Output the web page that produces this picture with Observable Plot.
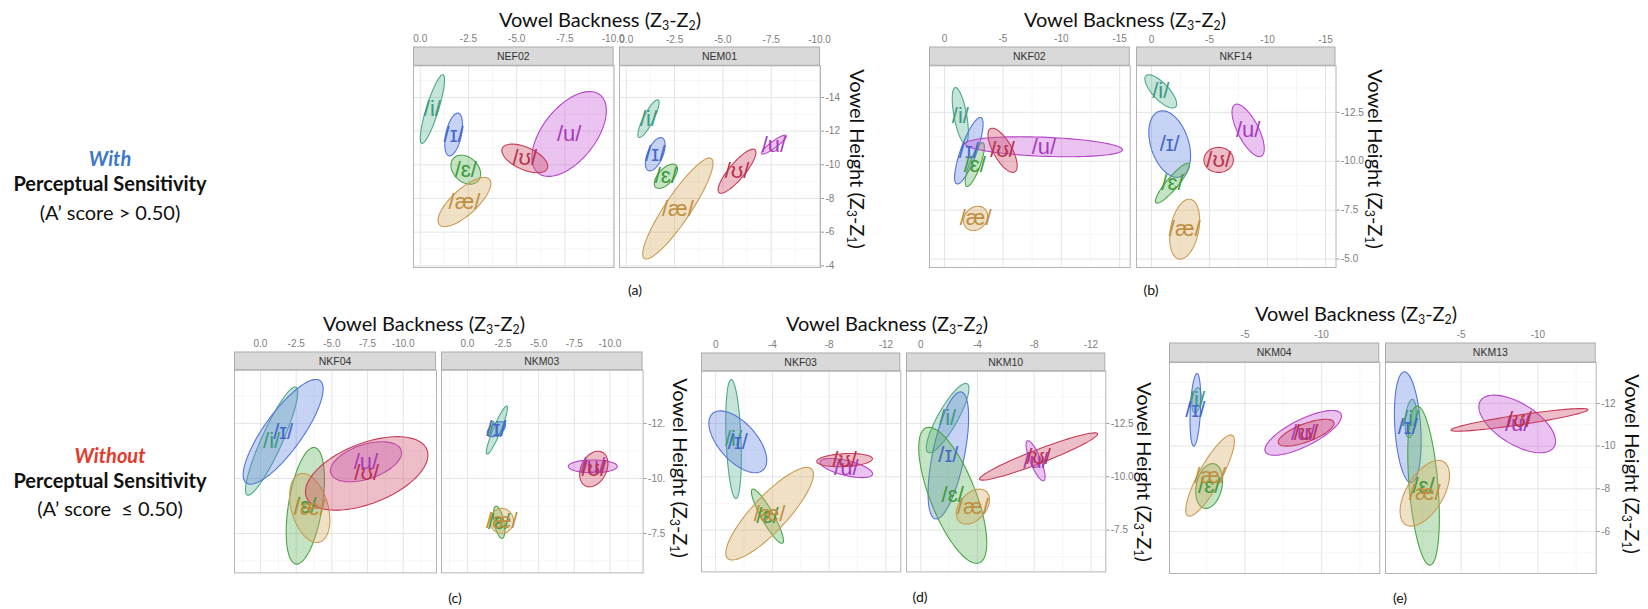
<!DOCTYPE html>
<html><head><meta charset="utf-8">
<script src="https://cdn.jsdelivr.net/npm/d3@7"></script>
<script src="https://cdn.jsdelivr.net/npm/@observablehq/plot@0.6"></script>
<style>
body{margin:0;background:#fff;}
#root{position:relative;width:1648px;height:609px;overflow:hidden;font-family:Lato,"Open Sans",sans-serif;color:#111;}
.abs{position:absolute;white-space:nowrap;line-height:1;}
sub{font-size:0.62em;vertical-align:-0.28em;line-height:0;}
.wrap{position:absolute;overflow:visible;}
.wrap svg{max-width:none !important;display:block;}
</style></head>
<body><div id="root"></div>
<script>
// ---------- data ----------
const vowels = ["i","ɪ","ɛ","æ","u","ʊ"];
const vowelLabels = ["/i/","/ɪ/","/ɛ/","/æ/","/u/","/ʊ/"];
const strokeColors = ["#4ea88b","#5476d6","#4ea34a","#c89c55","#b447c8","#c43c58"];
const fillColors   = ["#5fb89b","#6384e0","#5cb358","#d6aa62","#c45ad6","#d04a66"];
const textColors   = ["#3f9a7d","#4667cc","#3f9a3b","#bf8f3f","#a63bbb","#b8324d"];

const speakers = ["NEF02","NEM01","NKF02","NKF14","NKF04","NKM03","NKF03","NKM10","NKM04","NKM13"];
// mean backness (Z3-Z2) per vowel [i, ɪ, ɛ, æ, u, ʊ]
const centerX = [
  [-0.63,-1.73,-2.36,-2.29,-7.72,-5.42],
  [-1.15,-1.50,-2.05,-2.67,-7.64,-5.73],
  [-1.35,-2.08,-2.59,-2.66,-8.51,-4.97],
  [-0.80,-1.57,-1.81,-2.86,-8.33,-5.79],
  [-0.78,-1.59,-3.14,-3.45,-7.39,-7.44],
  [-2.07,-2.03,-2.22,-2.41,-8.80,-8.87],
  [-1.26,-1.56,-3.65,-3.80,-9.21,-9.09],
  [-1.90,-1.95,-2.26,-3.68,-8.10,-8.31],
  [-1.83,-1.76,-2.66,-2.72,-8.80,-8.99],
  [-1.71,-1.52,-2.55,-2.63,-8.65,-8.80]
];
// mean height (Z3-Z1)
const centerY = [
  [-13.31,-11.80,-9.71,-7.79,-11.83,-10.38],
  [-12.74,-10.63,-9.32,-7.40,-11.20,-9.62],
  [-12.34,-10.54,-9.83,-7.08,-10.74,-10.56],
  [-13.57,-10.88,-8.88,-6.53,-11.58,-10.07],
  [-11.70,-12.12,-8.76,-8.66,-10.76,-10.23],
  [-12.20,-12.24,-8.01,-8.07,-10.55,-10.43],
  [-11.77,-11.64,-8.15,-8.27,-10.41,-10.78],
  [-12.75,-11.00,-9.13,-8.60,-10.75,-10.95],
  [-12.15,-11.70,-8.13,-8.62,-10.62,-10.63],
  [-11.29,-10.88,-8.15,-7.79,-11.04,-11.23]
];
// ellipse half-extent in backness
const spreadX = [
  [0.63,0.46,0.77,1.37,1.93,1.19],
  [0.55,0.51,0.60,1.82,0.64,0.98],
  [0.69,1.22,0.82,1.03,6.73,1.25],
  [1.37,1.80,1.47,1.29,1.39,1.27],
  [1.83,2.80,1.34,1.41,2.49,4.29],
  [0.74,0.64,0.40,0.82,1.72,0.99],
  [0.55,2.04,1.13,3.09,1.85,1.96],
  [1.50,1.43,2.40,1.17,0.67,4.16],
  [0.30,0.35,0.88,1.59,2.50,1.82],
  [0.36,0.87,1.03,1.61,2.50,4.46]
];
// ellipse half-extent in height
const spreadY = [
  [2.04,1.27,0.86,1.46,2.52,0.85],
  [1.12,0.99,0.72,3.00,0.56,1.31],
  [1.43,1.70,1.12,0.62,0.51,1.13],
  [0.85,1.70,1.02,1.53,1.34,0.64],
  [2.46,2.38,2.65,1.57,0.91,1.67],
  [1.09,0.34,0.73,0.57,0.29,0.81],
  [2.79,1.45,1.27,2.17,0.45,0.31],
  [1.63,2.98,3.19,0.82,0.94,1.11],
  [0.59,1.70,1.05,1.90,1.05,0.63],
  [0.90,2.60,3.73,1.54,1.35,0.53]
];
// correlation of backness and height
const corr = [
  [0.85,0.45,-0.30,0.75,0.55,-0.55],
  [0.85,0.55,0.60,0.90,0.90,0.85],
  [-0.60,0.80,0.80,0.20,-0.30,-0.70],
  [-0.75,-0.35,0.90,0.30,-0.70,0.00],
  [0.90,0.82,0.45,-0.35,0.45,0.50],
  [0.92,0.50,-0.50,0.00,0.00,0.30],
  [-0.30,-0.60,-0.90,0.85,-0.60,0.20],
  [0.85,0.60,-0.70,0.40,-0.80,0.95],
  [0.30,0.30,0.25,0.85,0.75,0.70],
  [0.30,-0.25,-0.40,0.55,-0.60,0.90]
];

// tick values per panel group
const ticksA_x = [0,-2.5,-5,-7.5,-10], minorA_x = [-1.25,-3.75,-6.25,-8.75];
const ticksA_y = [-14,-12,-10,-8,-6,-4], minorA_y = [-15,-13,-11,-9,-7,-5];
const ticksB_x = [0,-5,-10,-15], minorB_x = [-2.5,-7.5,-12.5];
const ticksB_y = [-12.5,-10,-7.5,-5], minorB_y = [-13.75,-11.25,-8.75,-6.25];
const ticksC_x = [0,-2.5,-5,-7.5,-10], minorC_x = [1.25,-1.25,-3.75,-6.25,-8.75,-11.25];
const ticksC_y = [-12.5,-10,-7.5], minorC_y = [-13.75,-11.25,-8.75,-6.25];
const ticksD_x = [0,-4,-8,-12], minorD_x = [-2,-6,-10];
const ticksD_y = [-12.5,-10,-7.5], minorD_y = [-13.75,-11.25,-8.75,-6.25];
const ticksE_x = [-5,-10], minorE_x = [-2.5,-7.5,-12.5];
const ticksE_y = [-12,-10,-8,-6], minorE_y = [-13,-11,-9,-7,-5];

// ---------- drawing ----------
const root = document.getElementById("root");
const hy = (dec) => (d) => (d < 0 ? "-" : "") + Math.abs(d).toFixed(dec);

function ellipsePoints(s) {
  const pts = [];
  for (let v = 0; v < 6; v++) {
    const cx = centerX[s][v], cy = centerY[s][v], sx = spreadX[s][v], sy = spreadY[s][v], r = corr[s][v];
    const q = Math.sqrt(1 - r * r);
    for (let k = 0; k < 90; k++) {
      const t = 2 * Math.PI * k / 90;
      pts.push({v, x: cx + sx * Math.cos(t), y: cy + sy * (r * Math.cos(t) + q * Math.sin(t))});
    }
  }
  return pts;
}

function facet(c) {
  const s = speakers.indexOf(c.name);
  const labelArea = 16;
  const mt = c.stripH + labelArea;
  const mr = c.showY ? 48 : 0;
  const cents = vowels.map((v, i) => ({v: i, x: centerX[s][i], y: centerY[s][i]}));
  const marks = [
    Plot.gridX(c.xMinor, {stroke: "#f2f2f2", strokeOpacity: 1, strokeWidth: 0.7}),
    Plot.gridY(c.yMinor, {stroke: "#f2f2f2", strokeOpacity: 1, strokeWidth: 0.7}),
    Plot.gridX(c.xTicks, {stroke: "#e4e4e4", strokeOpacity: 1, strokeWidth: 1}),
    Plot.gridY(c.yTicks, {stroke: "#e4e4e4", strokeOpacity: 1, strokeWidth: 1}),
    Plot.line(ellipsePoints(s), {x: "x", y: "y", z: "v",
      fill: d => fillColors[d.v], fillOpacity: 0.36,
      stroke: d => strokeColors[d.v], strokeWidth: 1.1, curve: "linear-closed"}),
    Plot.text(cents, {x: "x", y: "y", text: d => vowelLabels[d.v], fill: d => textColors[d.v],
      fontSize: 22, fontFamily: "Liberation Sans, DejaVu Sans, sans-serif"}),
    Plot.frame({stroke: "#b4b4b4", strokeWidth: 1}),
    Plot.axisX(c.xTicks, {anchor: "top", tickSize: 0, tickPadding: c.stripH + 5,
      tickFormat: c.xFmt, fontSize: 10, fill: "#7d7d7d", fontFamily: "Liberation Sans, sans-serif", label: null})
  ];
  if (c.showY) marks.push(Plot.axisY(c.yTicks, {anchor: "right", tickSize: 3, tickPadding: 2,
      tickFormat: c.yFmt, fontSize: 10, fill: "#7d7d7d", stroke: "#9a9a9a", fontFamily: "Liberation Sans, sans-serif", label: null}));
  const svg = Plot.plot({
    width: c.w + mr, height: c.h + mt,
    marginTop: mt, marginRight: mr, marginLeft: 0, marginBottom: 0,
    x: {domain: c.xDomain, axis: null},
    y: {domain: c.yDomain, axis: null},
    color: {type: "identity"},
    style: {background: "transparent", overflow: "visible", maxWidth: "none"},
    marks
  });
  svg.style.maxWidth = "none";
  // facet strip
  const g = d3.select(svg).append("g");
  g.append("rect").attr("x", 0.5).attr("y", mt - c.stripH).attr("width", c.w - 1).attr("height", c.stripH)
    .attr("fill", "#d9d9d9").attr("stroke", "#ababab").attr("stroke-width", 1);
  g.append("text").attr("x", c.w / 2).attr("y", mt - c.stripH / 2).attr("dy", "0.36em")
    .attr("text-anchor", "middle").attr("font-size", 10.5).attr("fill", "#333")
    .attr("font-family", "Liberation Sans, sans-serif").text(c.name);
  const wrap = document.createElement("div");
  wrap.className = "wrap";
  wrap.style.left = c.left + "px";
  wrap.style.top = (c.panelTop - mt) + "px";
  wrap.style.width = (c.w + mr) + "px";
  wrap.style.height = (c.h + mt) + "px";
  if (c.clipW) {
    wrap.style.overflow = "hidden";
    wrap.style.width = c.clipW + "px";
    wrap.style.top = (c.panelTop - mt - 10) + "px";
    wrap.style.height = (c.h + mt + 20) + "px";
    svg.style.marginTop = "10px";
  }
  wrap.appendChild(svg);
  root.appendChild(wrap);
}

function addText(html, x, y, style, rot) {
  const d = document.createElement("div");
  d.className = "abs";
  d.innerHTML = html;
  d.style.left = x + "px"; d.style.top = y + "px";
  d.style.transform = "translate(-50%,-50%)" + (rot ? " rotate(90deg)" : "");
  Object.assign(d.style, style);
  root.appendChild(d);
}

const groups = [
  {panelTop: 65, h: 201.7, stripH: 18.3, xDomain: [0.35, -10.05], yDomain: [-3.9, -15.88],
   xTicks: ticksA_x, xMinor: minorA_x, yTicks: ticksA_y, yMinor: minorA_y, xFmt: hy(1), yFmt: hy(0),
   facets: [{name: "NEF02", left: 412.7, w: 200.6}, {name: "NEM01", left: 619, w: 201, showY: true}]},
  {panelTop: 65, h: 201.7, stripH: 18.3, xDomain: [1.29, -15.9], yDomain: [-4.57, -14.88],
   xTicks: ticksB_x, xMinor: minorB_x, yTicks: ticksB_y, yMinor: minorB_y, xFmt: hy(0), yFmt: hy(1),
   facets: [{name: "NKF02", left: 929.3, w: 200.7}, {name: "NKF14", left: 1135.7, w: 199.5, showY: true}]},
  {panelTop: 370, h: 202.7, stripH: 17.7, xDomain: [1.82, -12.33], yDomain: [-5.71, -14.92],
   xTicks: ticksC_x, xMinor: minorC_x, yTicks: ticksC_y, yMinor: minorC_y, xFmt: hy(1), yFmt: hy(1),
   facets: [{name: "NKF04", left: 234, w: 202}, {name: "NKM03", left: 440.7, w: 201.6, showY: true, clipW: 224}]},
  {panelTop: 371, h: 200.7, stripH: 17.7, xDomain: [1.0, -13.05], yDomain: [-5.54, -14.95],
   xTicks: ticksD_x, xMinor: minorD_x, yTicks: ticksD_y, yMinor: minorD_y, xFmt: hy(0), yFmt: hy(1),
   facets: [{name: "NKF03", left: 700.7, w: 199.3}, {name: "NKM10", left: 905.7, w: 199.3, showY: true, clipW: 230}]},
  {panelTop: 361.7, h: 211, stripH: 19, xDomain: [-0.07, -13.8], yDomain: [-4.03, -13.92],
   xTicks: ticksE_x, xMinor: minorE_x, yTicks: ticksE_y, yMinor: minorE_y, xFmt: hy(0), yFmt: hy(0),
   facets: [{name: "NKM04", left: 1169, w: 210.3}, {name: "NKM13", left: 1385, w: 210.7, showY: true}]}
];
for (const gr of groups) for (const f of gr.facets) facet({...gr, ...f});

// titles
const xt = "Vowel Backness (Z<sub>3</sub>-Z<sub>2</sub>)";
const yt = "Vowel Height (Z<sub>3</sub>-Z<sub>1</sub>)";
const tStyle = {fontSize: "20px"};
addText(xt, 600, 19, tStyle);
addText(xt, 1125, 19, tStyle);
addText(xt, 424, 323, tStyle);
addText(xt, 887, 323, tStyle);
addText(xt, 1356, 313, tStyle);
addText(yt, 858, 159, tStyle, true);
addText(yt, 1376, 159, tStyle, true);
addText(yt, 681, 468, tStyle, true);
addText(yt, 1145, 472, {fontSize: "20px", background: "#fff", padding: "0 3px"}, true);
addText(yt, 1633, 464, tStyle, true);
// captions
const cStyle = {fontSize: "14px"};
addText("(a)", 635, 290, cStyle);
addText("(b)", 1151, 290, cStyle);
addText("(c)", 455, 598, cStyle);
addText("(d)", 920, 597, cStyle);
addText("(e)", 1400, 598, cStyle);
// row labels
const rl = {fontSize: "20px"};
addText("With", 110, 158, {fontSize: "20px", fontWeight: "bold", fontStyle: "italic", color: "#3b78c9"});
addText("Perceptual Sensitivity", 110, 183, {fontSize: "20px", fontWeight: "bold"});
addText("(A’ score &gt; 0.50)", 110, 212, rl);
addText("Without", 110, 455, {fontSize: "20px", fontWeight: "bold", fontStyle: "italic", color: "#e2392b"});
addText("Perceptual Sensitivity", 110, 480, {fontSize: "20px", fontWeight: "bold"});
addText("(A’ score &nbsp;≤ 0.50)", 110, 508, rl);
</script>
</body></html>
